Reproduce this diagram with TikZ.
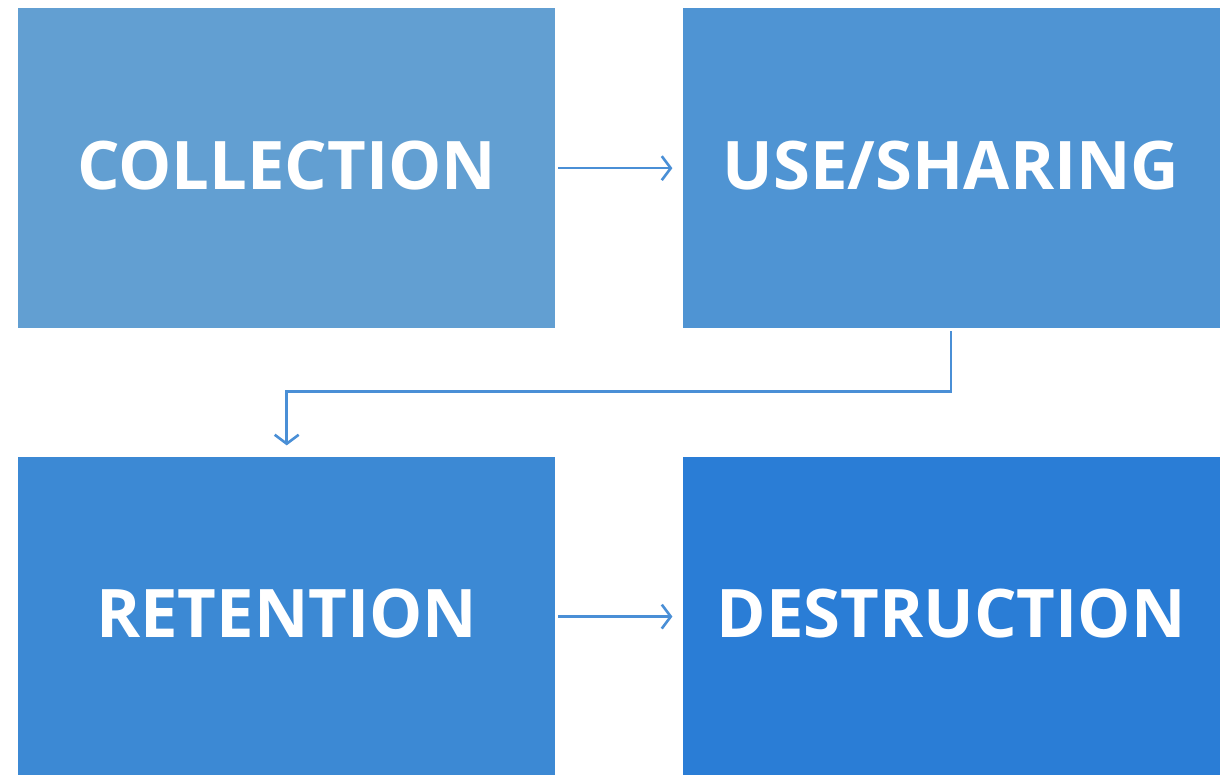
\documentclass[tikz,border=0pt]{standalone}
\usepackage{fontspec}
\setmainfont{Open Sans}
\usetikzlibrary{arrows.meta, positioning}
\definecolor{cone}{HTML}{629FD2}
\definecolor{ctwo}{HTML}{4F94D3}
\definecolor{cthree}{HTML}{3C89D4}
\definecolor{cfour}{HTML}{2A7DD6}
\definecolor{carrow}{HTML}{4A8FD6}
\tikzset{
  stage/.style={fill=#1, text=white, minimum width=537pt, minimum height=320pt, inner sep=0pt, text depth=6pt, font=\fontsize{67}{78}\selectfont\bfseries},
  flow/.style={-{Straight Barb[length=9pt, width=24pt]}, draw=carrow, line width=2.6pt},
}

\begin{document}
\begin{tikzpicture}[x=1pt, y=-1pt, node distance=128pt and 127pt]
  \useasboundingbox (0,0) rectangle (1223,775);
  \node[stage=cone, anchor=north west] (coll) at (18,8) {COLLECTION};
  \node[stage=ctwo, right=of coll] (use) {USE/SHARING};
  \node[stage=cthree, below=of coll] (ret) {RETENTION};
  \node[stage=cfour, right=of ret] (dest) {DESTRUCTION};
  \draw[flow, shorten <=3pt, shorten >=10pt] (coll) -- (use);
  \draw[flow, shorten <=3pt, shorten >=11pt] (use.south) -- ++(0,63) -| (ret.north);
  \draw[flow, shorten <=3pt, shorten >=10pt] (ret) -- (dest);
\end{tikzpicture}
\end{document}
